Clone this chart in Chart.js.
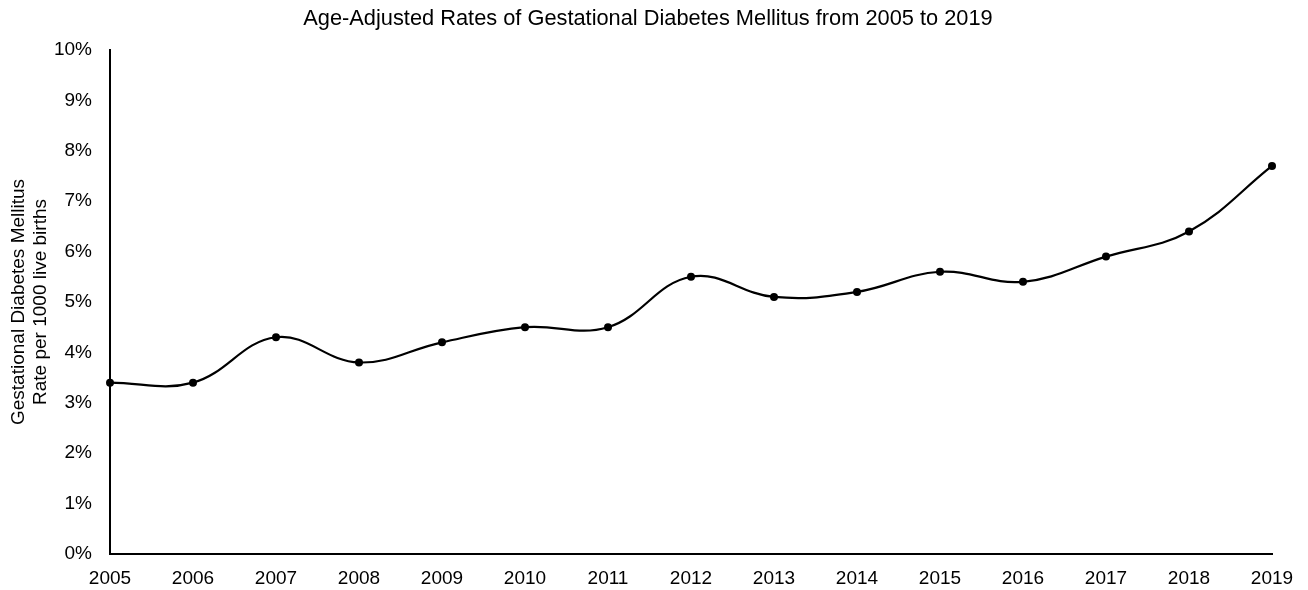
<!DOCTYPE html>
<html>
<head>
<meta charset="utf-8">
<script src="https://cdn.jsdelivr.net/npm/chart.js@4.4.1/dist/chart.umd.min.js"></script>
<style>
  html, body { margin: 0; padding: 0; background: #ffffff; }
  #wrap { width: 1308px; height: 590px; position: relative; }
</style>
</head>
<body>
<div id="wrap"><canvas id="chart" width="1308" height="590"></canvas></div>
<script>
// Gestational diabetes mellitus, age-adjusted rate by year (percent)
const years = ['2005', '2006', '2007', '2008', '2009', '2010', '2011', '2012', '2013', '2014', '2015', '2016', '2017', '2018', '2019'];
const gdmRates = [3.4, 3.4, 4.3, 3.8, 4.2, 4.5, 4.5, 5.5, 5.1, 5.2, 5.6, 5.4, 5.9, 6.4, 7.7];
const yTicks = [0, 1, 2, 3, 4, 5, 6, 7, 8, 9, 10];

const FONT = 'Liberation Sans, Arial, sans-serif';

new Chart(document.getElementById('chart'), {
  type: 'line',
  data: {
    labels: years,
    datasets: [{
      data: gdmRates,
      borderColor: '#000000',
      backgroundColor: '#000000',
      borderWidth: 2.2,
      pointRadius: 4,
      pointHoverRadius: 4,
      pointBackgroundColor: '#000000',
      pointBorderWidth: 0,
      tension: 0.4,
      fill: false
    }]
  },
  options: {
    responsive: false,
    animation: false,
    layout: { padding: { left: 0, right: 12, top: 0, bottom: 0 } },
    plugins: {
      legend: { display: false },
      tooltip: { enabled: false },
      title: {
        display: true,
        text: 'Age-Adjusted Rates of Gestational Diabetes Mellitus from 2005 to 2019',
        color: '#000000',
        font: { family: FONT, size: 21.8, weight: 'normal', lineHeight: 1.2 },
        padding: { top: 6, bottom: 17.8 }
      }
    },
    scales: {
      x: {
        type: 'category',
        offset: false,
        grid: { display: false, drawTicks: false },
        border: { display: true, color: '#000000', width: 2 },
        ticks: {
          color: '#000000',
          font: { family: FONT, size: 19 },
          padding: 13,
          maxRotation: 0,
          autoSkip: false
        },
        afterFit(scale) { scale.height = 36; }
      },
      y: {
        min: 0,
        max: 10,
        afterBuildTicks(scale) { scale.ticks = yTicks.map(v => ({ value: v })); },
        grid: { display: false, drawTicks: false },
        border: { display: true, color: '#000000', width: 2 },
        ticks: {
          color: '#000000',
          font: { family: FONT, size: 19 },
          padding: 18,
          callback: v => v + '%'
        },
        title: {
          display: true,
          text: ['Gestational Diabetes Mellitus', 'Rate per 1000 live births'],
          color: '#000000',
          font: { family: FONT, size: 19, lineHeight: 1.16 },
          padding: { top: 8, bottom: 0 }
        },
        afterFit(scale) { scale.width = 110; }
      },
      // empty right-hand gutter so the last year label has room
      yRight: {
        position: 'right',
        min: 0,
        max: 10,
        grid: { display: false, drawTicks: false },
        border: { display: false },
        ticks: { display: false },
        afterFit(scale) { scale.width = 24; }
      }
    }
  }
});
</script>
</body>
</html>
